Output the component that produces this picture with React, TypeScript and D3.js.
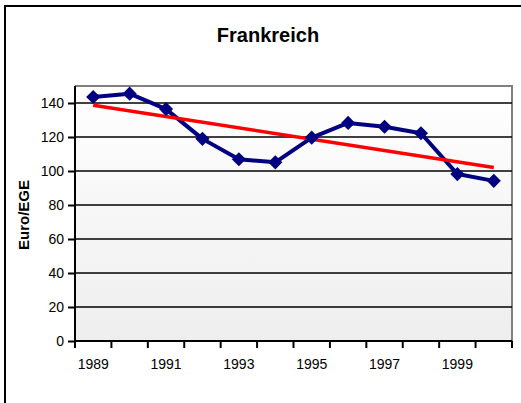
import { useEffect, useRef } from "react";
import * as d3 from "d3";

const years = ["1989", "1990", "1991", "1992", "1993", "1994", "1995", "1996", "1997", "1998", "1999", "2000"];
const values = [143.5, 145.5, 136.4, 118.9, 106.9, 105.1, 119.6, 128.3, 126.0, 122.2, 98.2, 94.2];
const yTicks = [0, 20, 40, 60, 80, 100, 120, 140];
const xLabels = ["1989", "1991", "1993", "1995", "1997", "1999"];

export default function App() {
  const svgRef = useRef<SVGSVGElement>(null);

  useEffect(() => {
    document.body.style.margin = "0";
    if (!svgRef.current) return;

    const W = 521;
    const H = 403;
    const margin = { top: 86, right: 9, bottom: 62, left: 75 };
    const width = W - margin.left - margin.right;
    const height = H - margin.top - margin.bottom;
    const font = "Arial, 'Liberation Sans', sans-serif";

    const root = d3.select(svgRef.current);
    root.selectAll("*").remove();
    root.attr("width", W).attr("height", H);

    // chart frame (right/bottom edges fall outside the picture)
    root.append("rect")
      .attr("x", 5).attr("y", 6)
      .attr("width", W + 10).attr("height", H + 10)
      .attr("fill", "white")
      .attr("stroke", "#000").attr("stroke-width", 2);

    root.append("text")
      .attr("x", 268).attr("y", 42)
      .attr("text-anchor", "middle")
      .attr("font-family", font)
      .attr("font-size", 20).attr("font-weight", "bold")
      .text("Frankreich");

    const defs = root.append("defs");
    const grad = defs.append("linearGradient")
      .attr("id", "bg").attr("x1", 0).attr("y1", 0).attr("x2", 0).attr("y2", 1);
    grad.append("stop").attr("offset", "0%").attr("stop-color", "#ffffff");
    grad.append("stop").attr("offset", "100%").attr("stop-color", "#eeeeee");

    const g = root.append("g").attr("transform", `translate(${margin.left},${margin.top})`);

    const x = d3.scaleBand().domain(years).range([0, width]);
    const y = d3.scaleLinear().domain([0, 150]).range([height, 0]);
    const cx = (d: string) => (x(d) ?? 0) + x.bandwidth() / 2;

    g.append("rect")
      .attr("width", width).attr("height", height)
      .attr("fill", "url(#bg)");

    // gray border top / right
    g.append("path")
      .attr("d", `M0,0H${width}V${height}`)
      .attr("fill", "none").attr("stroke", "#808080").attr("stroke-width", 2);

    // gridlines
    g.append("g")
      .selectAll("line")
      .data(yTicks.filter(t => t > 0))
      .enter()
      .append("line")
      .attr("x1", 0).attr("x2", width)
      .attr("y1", d => y(d)).attr("y2", d => y(d))
      .attr("stroke", "#000").attr("stroke-width", 1.5);

    // y axis
    const yAxis = g.append("g")
      .call(d3.axisLeft(y).tickValues(yTicks).tickSize(7).tickPadding(4));
    yAxis.select(".domain").attr("stroke", "#000").attr("stroke-width", 2)
      .attr("d", `M0,${height}V0`);
    yAxis.selectAll(".tick line").attr("stroke-width", 2);
    yAxis.selectAll("text").attr("font-family", font).attr("font-size", 14).attr("fill", "#000");

    // x axis: ticks on category boundaries
    const xg = g.append("g").attr("transform", `translate(0,${height})`);
    xg.append("line").attr("x1", 0).attr("x2", width).attr("stroke", "#000").attr("stroke-width", 2);
    const boundaries = years.map(d => x(d) ?? 0).concat([width]);
    xg.selectAll("line.tk")
      .data(boundaries)
      .enter()
      .append("line")
      .attr("class", "tk")
      .attr("x1", d => d).attr("x2", d => d)
      .attr("y1", 0).attr("y2", 7)
      .attr("stroke", "#000").attr("stroke-width", 2);
    xg.selectAll("text")
      .data(xLabels)
      .enter()
      .append("text")
      .attr("x", d => cx(d))
      .attr("y", 28)
      .attr("text-anchor", "middle")
      .attr("font-family", font).attr("font-size", 14)
      .text(d => d);

    // y label
    root.append("text")
      .attr("transform", `translate(29,215) rotate(-90)`)
      .attr("text-anchor", "middle")
      .attr("font-family", font).attr("font-size", 15).attr("font-weight", "bold")
      .text("Euro/EGE");

    // data line
    const pts = years.map((d, i) => ({ year: d, v: values[i] }));
    const line = d3.line<{ year: string; v: number }>().x(d => cx(d.year)).y(d => y(d.v));
    g.append("path")
      .datum(pts)
      .attr("d", line)
      .attr("fill", "none").attr("stroke", "#000080").attr("stroke-width", 4)
      .attr("stroke-linejoin", "round");

    // linear trend
    const idx = years.map((_, i) => i);
    const mx = d3.mean(idx) ?? 0;
    const my = d3.mean(values) ?? 0;
    const slope = d3.sum(idx, i => (i - mx) * (values[i] - my)) / d3.sum(idx, i => (i - mx) ** 2);
    const trend = [0, years.length - 1].map(i => ({ year: years[i], v: my + slope * (i - mx) }));
    g.append("path")
      .datum(trend)
      .attr("d", line)
      .attr("fill", "none").attr("stroke", "#ff0000").attr("stroke-width", 3.5);

    // markers
    g.append("g")
      .selectAll("path")
      .data(pts)
      .enter()
      .append("path")
      .attr("transform", d => `translate(${cx(d.year)},${y(d.v)}) rotate(45)`)
      .attr("d", "M-5,-5H5V5H-5Z")
      .attr("fill", "#000080");
  }, []);

  return <svg ref={svgRef} style={{ display: "block" }}></svg>;
}
